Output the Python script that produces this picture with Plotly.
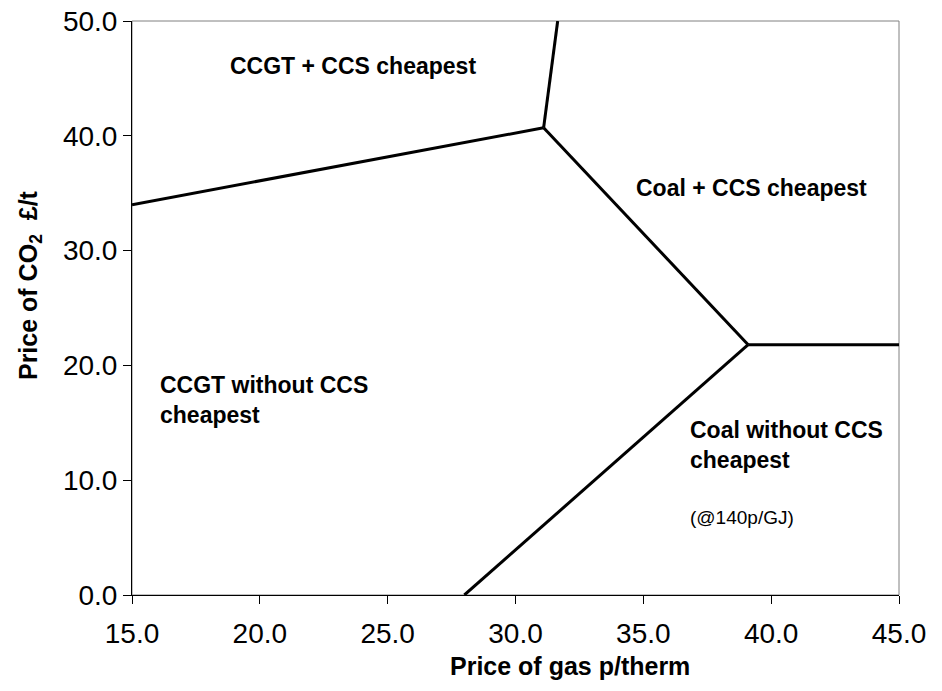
import plotly.graph_objects as go

# Boundary lines between cheapest-technology regions (gas price p/therm, CO2 price £/t)
boundary_ccgt_ccs_x = [15.0, 31.1]
boundary_ccgt_ccs_y = [34.0, 40.7]
boundary_top_x = [31.1, 31.65]
boundary_top_y = [40.7, 50.0]
boundary_diag_x = [31.1, 39.1]
boundary_diag_y = [40.7, 21.8]
boundary_right_x = [39.1, 45.0]
boundary_right_y = [21.8, 21.8]
boundary_bottom_x = [28.0, 39.1]
boundary_bottom_y = [0.0, 21.8]

x_ticks = [15.0, 20.0, 25.0, 30.0, 35.0, 40.0, 45.0]
y_ticks = [0.0, 10.0, 20.0, 30.0, 40.0, 50.0]

region_labels = ["CCGT + CCS cheapest", "Coal + CCS cheapest",
                 "CCGT without CCS<br>cheapest", "Coal without CCS<br>cheapest",
                 "(@140p/GJ)"]
region_x = [23.64, 39.25, 16.02, 36.75, 36.75]
region_y = [46.1, 35.45, 16.98, 13.1, 6.76]

FONT = "Liberation Sans, Arial, sans-serif"

fig = go.Figure()
for xs, ys in [(boundary_ccgt_ccs_x, boundary_ccgt_ccs_y),
               (boundary_top_x, boundary_top_y),
               (boundary_diag_x, boundary_diag_y),
               (boundary_right_x, boundary_right_y),
               (boundary_bottom_x, boundary_bottom_y)]:
    fig.add_trace(go.Scatter(x=xs, y=ys, mode="lines",
                             line=dict(color="black", width=3),
                             showlegend=False, hoverinfo="skip"))

anchors = ["center", "center", "left", "left", "left"]
sizes = [23, 23, 23, 23, 19]
weights = ["bold", "bold", "bold", "bold", "normal"]
for t, x, y, a, s, w in zip(region_labels, region_x, region_y, anchors, sizes, weights):
    fig.add_annotation(x=x, y=y, xref="x", yref="y", text=t, showarrow=False,
                       xanchor=a, yanchor="middle", align="left",
                       font=dict(family=FONT, size=s, color="black", weight=w))

# Axis titles
fig.add_annotation(x=-0.133, y=0.54, xref="paper", yref="paper",
                   xanchor="center", yanchor="middle",
                   text="Price of CO<sub>2</sub>  £/t", textangle=-90, showarrow=False,
                   font=dict(family=FONT, size=25, color="black", weight="bold"))
fig.add_annotation(x=0.571, y=-0.124, xref="paper", yref="paper",
                   xanchor="center", yanchor="middle",
                   text="Price of gas p/therm", showarrow=False,
                   font=dict(family=FONT, size=25, color="black", weight="bold"))

# Gray frame at top/right
fig.add_shape(type="rect", xref="paper", yref="paper", x0=0, y0=0, x1=1, y1=1,
              line=dict(color="#808080", width=1), layer="below")

fig.update_xaxes(range=[15, 45], tickvals=x_ticks, tickformat=".1f",
                 showgrid=False, zeroline=False, showline=True, linecolor="black",
                 linewidth=1, ticks="outside", ticklen=8, tickcolor="black",
                 ticklabelstandoff=5, automargin=False, ticklabeloverflow="allow",
                 tickfont=dict(family=FONT, size=28, color="black"))
fig.update_yaxes(range=[0, 50], tickvals=y_ticks, tickformat=".1f",
                 showgrid=False, zeroline=False, showline=True, linecolor="black",
                 linewidth=1, ticks="outside", ticklen=8, tickcolor="black",
                 automargin=False, ticklabeloverflow="allow",
                 tickfont=dict(family=FONT, size=28, color="black"))

fig.update_layout(width=942, height=691, paper_bgcolor="white", plot_bgcolor="white",
                  margin=dict(l=124, r=51, t=13, b=104), showlegend=False)

fig.write_html("out.html")
